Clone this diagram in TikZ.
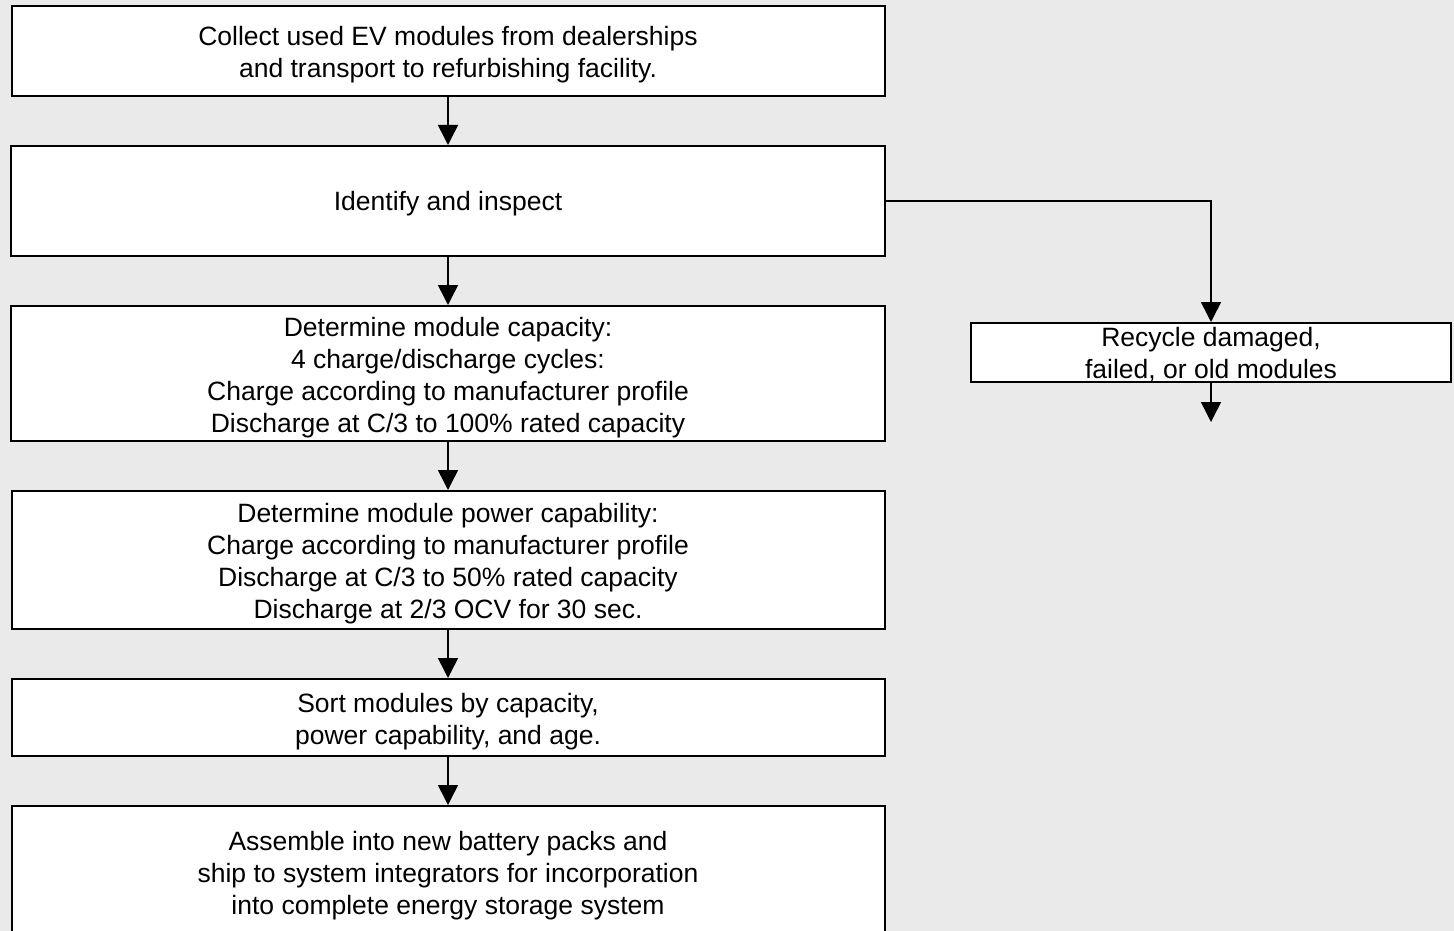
\documentclass[tikz,border=0pt]{standalone}
\usepackage{fontspec}
\setmainfont{Liberation Sans}
\usetikzlibrary{arrows.meta}
\definecolor{bggray}{RGB}{234,234,234}
\newcommand{\topstrut}{\rule{0pt}{27pt}}
\begin{document}
\begin{tikzpicture}[x=1pt,y=-1pt,
  boxtext/.style={align=center, inner sep=0pt, font=\fontsize{26.5}{32}\selectfont},
  stepbox/.style={boxtext, draw=black, fill=white, line width=2pt, minimum width=873pt},
  recbox/.style={boxtext, draw=black, fill=white, line width=2pt,
    minimum width=480pt, minimum height=59pt, text depth=0pt},
  flow/.style={line width=1.5pt, -{Triangle[width=20pt,length=20pt]}}]
\path[use as bounding box, fill=bggray] (0,0) rectangle (1454,931);
\begin{scope}
\clip (0,0) rectangle (1454,931);
\node[stepbox, minimum height=90pt] (b1) at (448,51)
  {\topstrut Collect used EV modules from dealerships\\ and transport to refurbishing facility.};
\node[stepbox, minimum width=874pt, minimum height=110pt] (b2) at (448,201)
  {\rule{0pt}{25pt}Identify and inspect};
\node[stepbox, minimum width=874pt, minimum height=135pt] (b3) at (448,373.5)
  {\topstrut Determine module capacity:\\ 4 charge/discharge cycles:\\ Charge according to manufacturer profile\\ Discharge at C/3 to 100\% rated capacity};
\node[stepbox, minimum height=138pt] (b4) at (448,560)
  {\topstrut Determine module power capability:\\ Charge according to manufacturer profile\\ Discharge at C/3 to 50\% rated capacity\\ Discharge at 2/3 OCV for 30 sec.};
\node[stepbox, minimum height=77pt] (b5) at (448,717.5)
  {\topstrut Sort modules by capacity,\\ power capability, and age.};
\node[stepbox, minimum height=132pt] (b6) at (448,872)
  {\topstrut Assemble into new battery packs and\\ ship to system integrators for incorporation\\ into complete energy storage system};
\node[recbox] (rec) at (1211,352.5)
  {Recycle damaged,\\ failed, or old modules};
\coordinate (recout) at (1211,422);
\draw[flow] (b1) -- (b2);
\draw[flow] (b2) -- (b3);
\draw[flow] (b3) -- (b4);
\draw[flow] (b4) -- (b5);
\draw[flow] (b5) -- (b6);
\draw[flow] (b2.east) -| (rec.north);
\draw[flow] (rec.south) -- (recout);
\end{scope}
\end{tikzpicture}
\end{document}
